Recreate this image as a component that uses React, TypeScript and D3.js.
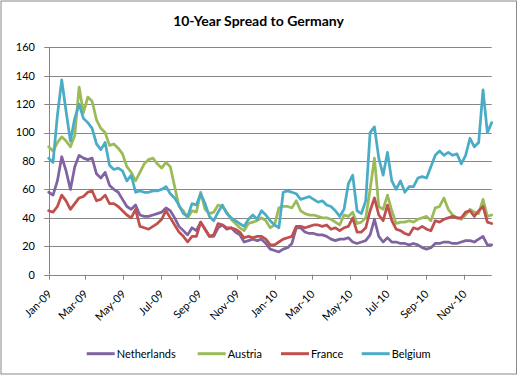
import React from "react";
import * as d3 from "d3";

const seriesNames = ["Netherlands", "Austria", "France", "Belgium"];
const seriesColors = ["#8064A2", "#9BBB59", "#C0504D", "#4BACC6"];

// weekly observations starting 2009-01-01
const startDate = new Date(2009, 0, 1);
const stepDays = 7;

const netherlands = [58, 56, 66, 83, 73, 60, 76, 84, 82, 81, 82, 71, 68, 72, 63, 60, 58, 53, 48, 46, 49, 42, 41, 41, 42, 43, 44, 47, 45, 40, 34, 31, 28, 33, 31, 37, 32, 27, 27, 33, 35, 32, 33, 30, 28, 23, 24, 25, 24, 25, 22, 18, 17, 16, 18, 19, 22, 33, 33, 30, 29, 29, 28, 28, 27, 25, 24, 25, 25, 26, 23, 22, 23, 24, 28, 39, 27, 23, 26, 23, 23, 22, 22, 21, 22, 21, 19, 18, 19, 22, 22, 23, 23, 22, 22, 23, 24, 24, 23, 25, 27, 21, 21];
const austria = [90, 87, 93, 97, 94, 90, 98, 132, 114, 125, 122, 109, 103, 100, 91, 92, 89, 85, 76, 72, 66, 72, 78, 81, 82, 78, 75, 79, 76, 62, 48, 45, 40, 45, 44, 58, 46, 43, 44, 49, 48, 44, 39, 36, 33, 31, 36, 37, 38, 40, 38, 33, 35, 47, 48, 48, 47, 52, 45, 43, 42, 42, 41, 40, 40, 39, 37, 35, 42, 41, 44, 36, 37, 40, 60, 82, 48, 46, 56, 45, 36, 37, 37, 38, 37, 39, 40, 41, 38, 47, 48, 54, 46, 42, 40, 39, 42, 46, 44, 43, 53, 41, 42];
const france = [45, 44, 48, 56, 52, 46, 50, 54, 55, 58, 59, 52, 53, 56, 50, 50, 48, 45, 42, 40, 46, 34, 33, 32, 34, 36, 39, 45, 40, 35, 30, 27, 23, 27, 27, 37, 32, 27, 28, 36, 35, 33, 33, 32, 30, 26, 27, 26, 27, 27, 25, 21, 21, 23, 25, 26, 27, 34, 34, 33, 34, 35, 35, 34, 35, 32, 33, 31, 33, 34, 40, 30, 30, 33, 45, 54, 42, 38, 49, 38, 32, 31, 29, 28, 33, 32, 34, 32, 31, 38, 37, 39, 40, 41, 40, 40, 44, 45, 41, 45, 48, 37, 36];
const belgium = [82, 79, 112, 137, 115, 94, 110, 120, 110, 107, 103, 92, 88, 93, 77, 74, 75, 73, 66, 70, 58, 59, 58, 58, 59, 59, 60, 62, 57, 54, 49, 43, 41, 50, 49, 57, 50, 41, 38, 44, 49, 43, 40, 38, 36, 34, 39, 42, 39, 45, 42, 38, 35, 33, 58, 59, 58, 57, 53, 54, 55, 53, 51, 52, 49, 48, 45, 41, 46, 64, 70, 45, 43, 52, 100, 104, 82, 70, 86, 66, 60, 66, 58, 62, 62, 68, 69, 68, 76, 84, 87, 84, 86, 84, 85, 78, 84, 96, 90, 93, 130, 100, 107];

const yTicks = [0, 20, 40, 60, 80, 100, 120, 140, 160];
const xTickMonths = ["2009-01", "2009-03", "2009-05", "2009-07", "2009-09", "2009-11", "2010-01", "2010-03", "2010-05", "2010-07", "2010-09", "2010-11"];

const W = 519;
const H = 376;
const left = 48.7;
const right = 491.7;
const top = 47.3;
const bottom = 274.7;
const font = "Lato, 'Open Sans', sans-serif";

export default function App() {
  const allSeries = [netherlands, austria, france, belgium];
  const dates = netherlands.map((_, i) => d3.timeDay.offset(startDate, i * stepDays));
  const x = d3
    .scaleTime()
    .domain([startDate, dates[dates.length - 1]])
    .range([left, right]);
  const y = d3.scaleLinear().domain([0, 160]).range([bottom, top]);
  const line = (vals: number[]) =>
    d3
      .line<number>()
      .x((_, i) => x(dates[i]))
      .y((v) => y(v))(vals) || "";
  const parseMonth = d3.timeParse("%Y-%m");
  const fmt = d3.timeFormat("%b-%y");
  const xTicks = xTickMonths.map((m) => parseMonth(m) as Date);
  const gridColor = "#868686";
  const legendX = [86.7, 197.7, 281, 361.7];

  return (
    <svg
      width={W}
      height={H}
      style={{ position: "absolute", left: 0, top: 0, display: "block", background: "#fff" }}
    >
      <rect x={1} y={1} width={515.5} height={373} fill="#fff" stroke="#888" strokeWidth={1} />
      <text x={258.5} y={26} textAnchor="middle" fontFamily={font} fontWeight="bold" fontSize={14} fill="#000">
        10-Year Spread to Germany
      </text>
      {yTicks.map((t) => (
        <g key={t}>
          <line x1={left - 4.5} x2={right} y1={Math.round(y(t)) + 0.5} y2={Math.round(y(t)) + 0.5} stroke={gridColor} strokeWidth={1} />
          <text x={35} y={y(t)} dy="0.35em" textAnchor="end" fontFamily={font} fontSize={11} fill="#000">
            {t}
          </text>
        </g>
      ))}
      <line x1={Math.round(left) + 0.5} x2={Math.round(left) + 0.5} y1={top} y2={bottom} stroke={gridColor} strokeWidth={1} />
      {xTicks.map((d) => {
        const px = Math.round(x(d)) + 0.5;
        return (
          <g key={d.toISOString()}>
            <line x1={px} x2={px} y1={bottom} y2={bottom + 5} stroke={gridColor} strokeWidth={1} />
            <text
              transform={`translate(${px + 3},${bottom + 20}) rotate(-45)`}
              textAnchor="end"
              fontFamily={font}
              fontSize={11}
              fill="#000"
            >
              {fmt(d)}
            </text>
          </g>
        );
      })}
      {allSeries.map((s, i) => (
        <path key={seriesNames[i]} d={line(s)} fill="none" stroke={seriesColors[i]} strokeWidth={2.75} strokeLinejoin="round" strokeLinecap="round" />
      ))}
      {seriesNames.map((n, i) => (
        <g key={n}>
          <line x1={legendX[i]} x2={legendX[i] + 28} y1={353.7} y2={353.7} stroke={seriesColors[i]} strokeWidth={3} />
          <text x={legendX[i] + 30} y={353.7} dy="0.35em" fontFamily={font} fontSize={11} fill="#000">
            {n}
          </text>
        </g>
      ))}
    </svg>
  );
}
